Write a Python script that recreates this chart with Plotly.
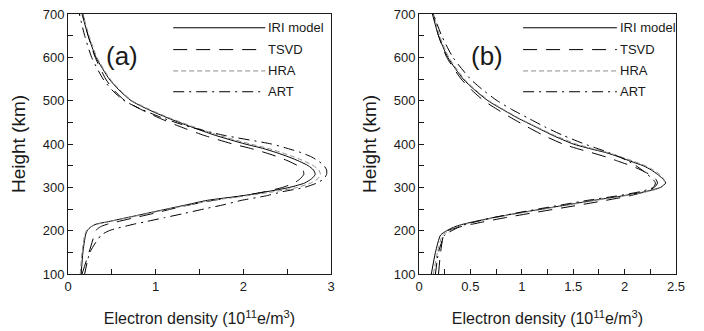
import plotly.graph_objects as go

# ---------------- data ----------------
HEIGHT_KM = [100, 150, 190, 200, 205, 210, 215, 220, 230, 240, 250, 260, 270, 280,
             290, 300, 310, 320, 330, 340, 350, 360, 370, 380, 390, 400, 420, 440,
             460, 480, 500, 525, 550, 600, 650, 700]

# panel (a)
A_IRI = [0.15, 0.17, 0.20, 0.22, 0.24, 0.27, 0.32, 0.44, 0.67, 0.90, 1.13, 1.36, 1.59, 1.97,
         2.27, 2.53, 2.70, 2.78, 2.82, 2.80, 2.74, 2.64, 2.52, 2.38, 2.22, 2.02, 1.68, 1.40,
         1.14, 0.91, 0.72, 0.58, 0.47, 0.32, 0.23, 0.16]
A_TSVD = [0.16, 0.24, 0.30, 0.32, 0.34, 0.38, 0.45, 0.55, 0.76, 0.98, 1.18, 1.40, 1.66, 1.98,
          2.25, 2.45, 2.58, 2.65, 2.69, 2.68, 2.62, 2.52, 2.40, 2.25, 2.08, 1.88, 1.55, 1.28,
          1.04, 0.83, 0.65, 0.52, 0.43, 0.31, 0.23, 0.17]
A_HRA = [0.14, 0.16, 0.19, 0.21, 0.23, 0.27, 0.33, 0.45, 0.68, 0.92, 1.15, 1.40, 1.65, 2.02,
         2.35, 2.62, 2.77, 2.85, 2.88, 2.86, 2.80, 2.70, 2.58, 2.44, 2.28, 2.08, 1.72, 1.43,
         1.16, 0.93, 0.73, 0.59, 0.48, 0.33, 0.24, 0.17]
A_ART = [0.19, 0.25, 0.38, 0.47, 0.55, 0.65, 0.75, 0.87, 1.10, 1.33, 1.55, 1.78, 1.98, 2.25,
         2.45, 2.70, 2.84, 2.92, 2.95, 2.95, 2.92, 2.86, 2.78, 2.66, 2.50, 2.32, 1.78, 1.38,
         1.08, 0.84, 0.64, 0.50, 0.40, 0.27, 0.19, 0.13]

# panel (b)
B_IRI = [0.12, 0.16, 0.21, 0.27, 0.31, 0.36, 0.43, 0.52, 0.72, 0.95, 1.20, 1.45, 1.70, 1.97,
         2.20, 2.35, 2.40, 2.37, 2.32, 2.26, 2.18, 2.06, 1.95, 1.82, 1.65, 1.50, 1.30, 1.13,
         0.96, 0.81, 0.67, 0.54, 0.43, 0.28, 0.19, 0.13]
B_TSVD = [0.19, 0.21, 0.24, 0.28, 0.34, 0.42, 0.52, 0.62, 0.84, 1.08, 1.33, 1.58, 1.82, 2.04,
          2.20, 2.29, 2.32, 2.30, 2.24, 2.16, 2.06, 1.94, 1.82, 1.68, 1.53, 1.40, 1.21, 1.05,
          0.90, 0.76, 0.63, 0.51, 0.41, 0.27, 0.19, 0.14]
B_HRA = [0.14, 0.18, 0.23, 0.30, 0.34, 0.39, 0.45, 0.54, 0.74, 0.97, 1.22, 1.47, 1.72, 1.99,
         2.22, 2.36, 2.39, 2.38, 2.34, 2.28, 2.20, 2.09, 1.97, 1.84, 1.68, 1.53, 1.32, 1.14,
         0.97, 0.82, 0.68, 0.55, 0.44, 0.29, 0.20, 0.14]
B_ART = [0.16, 0.19, 0.25, 0.32, 0.36, 0.40, 0.46, 0.54, 0.72, 0.93, 1.16, 1.40, 1.64, 1.92,
         2.15, 2.28, 2.30, 2.27, 2.22, 2.17, 2.11, 2.04, 1.95, 1.85, 1.73, 1.61, 1.40, 1.22,
         1.06, 0.90, 0.76, 0.62, 0.50, 0.33, 0.22, 0.14]

SERIES_NAMES = ["IRI model", "TSVD", "HRA", "ART"]
PANEL_LABELS = ["(a)", "(b)"]
Y_TICKS = [100, 200, 300, 400, 500, 600, 700]
XA_TICKS = [0, 1, 2, 3]
XB_TICKS = [0, 0.5, 1, 1.5, 2, 2.5]
XB_TICKTEXT = ["0", "0.5", "1", "1.5", "2", "2.5"]

# ---------------- styles ----------------
STYLE = {
    "IRI model": dict(color="black", dash="solid", width=1),
    "TSVD": dict(color="black", dash="14px,9px", width=1),
    "HRA": dict(color="#8c8c8c", dash="5px,3px", width=1),
    "ART": dict(color="black", dash="11px,5px,2px,5px", width=1),
}
FONT = "Liberation Sans, Arial, Helvetica, sans-serif"
INK = "#1a1a1a"

fig = go.Figure()
panels = [
    ("x", "y", [A_IRI, A_TSVD, A_HRA, A_ART]),
    ("x2", "y2", [B_IRI, B_TSVD, B_HRA, B_ART]),
]
for xa, ya, data in panels:
    for name, xs in zip(SERIES_NAMES, data):
        fig.add_trace(go.Scatter(
            x=xs, y=HEIGHT_KM, mode="lines", name=name, showlegend=False,
            line=dict(shape="spline", smoothing=0.6, **STYLE[name]),
            xaxis=xa, yaxis=ya, hoverinfo="skip", cliponaxis=True))

# page body has an 8px margin: size the figure to the visible area
OFF = 8
W, H = 704 - OFF, 331 - OFF
def px_x(p):
    return (p - OFF) / W
def px_y(p):
    return 1 - (p - OFF) / H

dom_a = [px_x(68), px_x(331)]
dom_b = [px_x(419), px_x(676)]
dom_y = [px_y(274), px_y(14)]

axis_common = dict(
    showline=True, linecolor=INK, linewidth=1, mirror=True, automargin=False,
    ticks="inside", ticklen=5, tickwidth=1, tickcolor=INK,
    showgrid=False, zeroline=False, ticklabeloverflow="allow",
    tickfont=dict(family=FONT, size=13, color=INK),
)
XTITLE = "Electron density (10<sup>11</sup>e/m<sup>3</sup>)"
xtitle = dict(text=XTITLE, font=dict(family=FONT, size=16, color=INK), standoff=20)
ytitle = dict(text="Height (km)", font=dict(family=FONT, size=19, color=INK), standoff=12)

fig.update_layout(
    width=W, height=H,
    margin=dict(l=0, r=0, t=0, b=0, autoexpand=False),
    paper_bgcolor="white", plot_bgcolor="white",
    showlegend=False,
    xaxis=dict(domain=dom_a, range=[0, 3], tickvals=XA_TICKS, anchor="y",
               minor=dict(dtick=0.5, ticks="inside", ticklen=5, tickcolor=INK),
               title=xtitle, **axis_common),
    yaxis=dict(domain=dom_y, range=[100, 700], tickvals=Y_TICKS, anchor="x",
               minor=dict(dtick=50, ticks="inside", ticklen=5, tickcolor=INK),
               title=ytitle, **axis_common),
    xaxis2=dict(domain=dom_b, range=[0, 2.5], tickvals=XB_TICKS, ticktext=XB_TICKTEXT,
                anchor="y2",
                minor=dict(dtick=0.25, ticks="inside", ticklen=5, tickcolor=INK),
                title=xtitle, **axis_common),
    yaxis2=dict(domain=dom_y, range=[100, 700], tickvals=Y_TICKS, anchor="x2",
                minor=dict(dtick=50, ticks="inside", ticklen=5, tickcolor=INK),
                title=ytitle, **axis_common),
)

# ---------------- in-plot legends and panel labels ----------------
legend_rows = [0.947, 0.863, 0.781, 0.701]
legend_geom = [("x", "y", 0.40, 0.75), ("x2", "y2", 0.405, 0.77)]
for (xa, ya, x0, x1) in legend_geom:
    xr = ("x domain" if xa == "x" else "x2 domain")
    yr = ("y domain" if ya == "y" else "y2 domain")
    for name, yy in zip(SERIES_NAMES, legend_rows):
        st = STYLE[name]
        fig.add_shape(type="line", xref=xr, yref=yr, x0=x0, x1=x1, y0=yy, y1=yy,
                      line=dict(color=st["color"], dash=st["dash"], width=1))
        fig.add_annotation(xref=xr, yref=yr, x=x1, y=yy, text=name,
                           showarrow=False, xanchor="left", yanchor="middle",
                           borderpad=0, xshift=2,
                           font=dict(family=FONT, size=13, color=INK))

for (xa, ya, _, _), lab, lx in zip(legend_geom, PANEL_LABELS, [0.207, 0.265]):
    xr = ("x domain" if xa == "x" else "x2 domain")
    yr = ("y domain" if ya == "y" else "y2 domain")
    fig.add_annotation(xref=xr, yref=yr, x=lx, y=0.84, text=lab, showarrow=False,
                       xanchor="center", yanchor="middle",
                       font=dict(family=FONT, size=26, color=INK))

fig.write_html("out.html")
